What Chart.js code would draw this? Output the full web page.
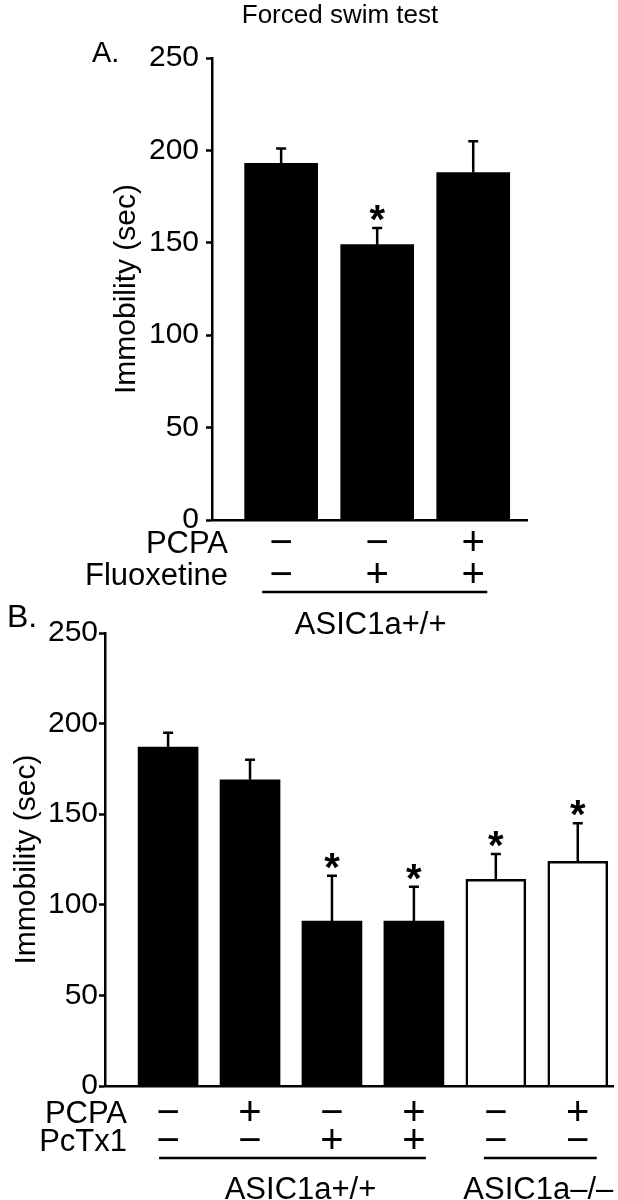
<!DOCTYPE html>
<html>
<head>
<meta charset="utf-8">
<script src="https://cdn.jsdelivr.net/npm/chart.js@4/dist/chart.umd.min.js"></script>
<style>
  body { margin: 0; background: #fff; }
  .wrap { position: relative; width: 618px; height: 1200px; }
  canvas { position: absolute; left: 0; }
  #chartA { top: 0; }
  #chartB { top: 600px; }
</style>
</head>
<body>
<div class="wrap">
  <canvas id="chartA" width="618" height="640"></canvas>
  <canvas id="chartB" width="618" height="600"></canvas>
</div>
<script>
// panel A
const aMeans = [193, 149, 188];
const aErrors = [8, 9, 17];
const aStars = [false, true, false];
const aPCPA = ['−', '−', '+'];
const aFluoxetine = ['−', '+', '+'];

// panel B
const bMeans = [187, 169, 91, 91, 114, 124];
const bErrors = [8, 11, 25, 19, 14, 21];
const bStars = [false, false, true, true, true, true];
const bPCPA = ['−', '+', '−', '+', '−', '+'];
const bPcTx1 = ['−', '−', '+', '+', '−', '−'];
const bFills = ['#000', '#000', '#000', '#000', '#fff', '#fff'];

const yMax = 250;
const yStep = 50;

const FONT = '"Liberation Sans", Arial, Helvetica, sans-serif';
Chart.defaults.font.family = FONT;
Chart.defaults.color = '#000';

const annotPlugin = {
  id: 'annot',
  afterDatasetsDraw(chart, args, o) {
    const ctx = chart.ctx;
    const x = chart.scales.x, y = chart.scales.y;
    ctx.save();
    ctx.strokeStyle = '#000';
    ctx.fillStyle = '#000';
    ctx.lineWidth = 2.5;
    o.means.forEach((m, i) => {
      const px = x.getPixelForValue(i);
      const base = y.getPixelForValue(m);
      const top = y.getPixelForValue(m + o.errors[i]);
      ctx.beginPath();
      ctx.moveTo(px, base);
      ctx.lineTo(px, top);
      ctx.moveTo(px - 5, top);
      ctx.lineTo(px + 5, top);
      ctx.stroke();
      if (o.stars[i]) {
        ctx.font = 'bold 40px ' + FONT;
        ctx.textAlign = 'center';
        ctx.textBaseline = 'alphabetic';
        ctx.fillText('*', px, top + 5);
      }
    });
    ctx.restore();
  },
  afterDraw(chart, args, o) {
    const ctx = chart.ctx;
    const x = chart.scales.x;
    ctx.save();
    ctx.fillStyle = '#000';
    ctx.strokeStyle = '#000';
    ctx.textBaseline = 'alphabetic';

    if (o.title) {
      ctx.font = '26px ' + FONT;
      ctx.textAlign = 'center';
      ctx.fillText(o.title, o.titleX, o.titleY);
    }
    ctx.font = o.letterSize + 'px ' + FONT;
    ctx.textAlign = 'left';
    ctx.fillText(o.letter, o.letterX, o.letterY);

    o.rows.forEach(r => {
      ctx.font = '31px ' + FONT;
      ctx.textAlign = 'right';
      ctx.fillText(r.label, o.rowLabelX, r.y + 11);
      ctx.font = '40px ' + FONT;
      ctx.textAlign = 'center';
      r.signs.forEach((s, i) => ctx.fillText(s, x.getPixelForValue(i), r.y + 13));
    });

    ctx.lineWidth = 2.5;
    o.groups.forEach(g => {
      const x0 = x.getPixelForValue(g.from) - g.padL;
      const x1 = x.getPixelForValue(g.to) + g.padR;
      ctx.beginPath();
      ctx.moveTo(x0, o.groupLineY);
      ctx.lineTo(x1, o.groupLineY);
      ctx.stroke();
      ctx.font = '31px ' + FONT;
      ctx.textAlign = 'center';
      ctx.fillText(g.label, (x0 + x1) / 2 + (g.shift || 0), o.groupTextY);
    });
    ctx.restore();
  }
};

function yScale(width, tickPad, titlePad) {
  return {
    min: 0,
    max: yMax,
    ticks: { stepSize: yStep, color: '#000', font: { size: 30 }, padding: tickPad },
    grid: { drawOnChartArea: false, tickLength: 6, tickWidth: 2.5, tickColor: '#000' },
    border: { color: '#000', width: 2.5 },
    title: { display: true, text: 'Immobility (sec)', color: '#000', font: { size: 30 }, padding: { top: titlePad, bottom: 0 } },
    afterFit: s => { s.width = width; }
  };
}

function xScale(min, max) {
  return {
    type: 'linear',
    min: min,
    max: max,
    offset: false,
    ticks: { display: false },
    grid: { display: false },
    border: { color: '#000', width: 2.5, z: 1 },
    afterFit: s => { s.height = 0; }
  };
}

new Chart(document.getElementById('chartA'), {
  type: 'bar',
  data: {
    datasets: [{
      data: aMeans.map((v, i) => ({ x: i, y: v })),
      backgroundColor: '#000',
      borderWidth: 0,
      barThickness: 73
    }]
  },
  options: {
    responsive: false,
    animation: false,
    layout: { padding: { top: 58, left: 100, right: 91, bottom: 120 } },
    plugins: {
      legend: { display: false },
      tooltip: { enabled: false },
      annot: {
        means: aMeans, errors: aErrors, stars: aStars,
        title: 'Forced swim test', titleX: 340, titleY: 23,
        letter: 'A.', letterX: 92, letterY: 62, letterSize: 29,
        rowLabelX: 228,
        rows: [
          { label: 'PCPA', signs: aPCPA, y: 542 },
          { label: 'Fluoxetine', signs: aFluoxetine, y: 574 }
        ],
        groupLineY: 592, groupTextY: 634,
        groups: [{ label: 'ASIC1a+/+', from: 0, to: 2, padL: 19, padR: 14, shift: -4 }]
      }
    },
    scales: { x: xScale(-0.72, 2.56), y: yScale(112, 7, 9) }
  },
  plugins: [annotPlugin]
});

new Chart(document.getElementById('chartB'), {
  type: 'bar',
  data: {
    datasets: [{
      data: bMeans.map((v, i) => ({ x: i, y: v })),
      backgroundColor: bFills,
      borderColor: '#000',
      borderWidth: bFills.map(c => c === '#fff' ? 2.5 : 0),
      barThickness: 60
    }]
  },
  options: {
    responsive: false,
    animation: false,
    layout: { padding: { top: 33, left: 0, right: 5, bottom: 114 } },
    plugins: {
      legend: { display: false },
      tooltip: { enabled: false },
      annot: {
        means: bMeans, errors: bErrors, stars: bStars,
        letter: 'B.', letterX: 7, letterY: 27, letterSize: 32,
        rowLabelX: 127,
        rows: [
          { label: 'PCPA', signs: bPCPA, y: 512 },
          { label: 'PcTx1', signs: bPcTx1, y: 540 }
        ],
        groupLineY: 558, groupTextY: 599,
        groups: [
          { label: 'ASIC1a+/+', from: 0, to: 3, padL: 9, padR: 12, shift: 8 },
          { label: 'ASIC1a–/–', from: 4, to: 5, padL: 12, padR: 19, shift: -2 }
        ]
      }
    },
    scales: { x: xScale(-0.77, 5.43), y: yScale(105, 1, 9) }
  },
  plugins: [annotPlugin]
});
</script>
</body>
</html>
